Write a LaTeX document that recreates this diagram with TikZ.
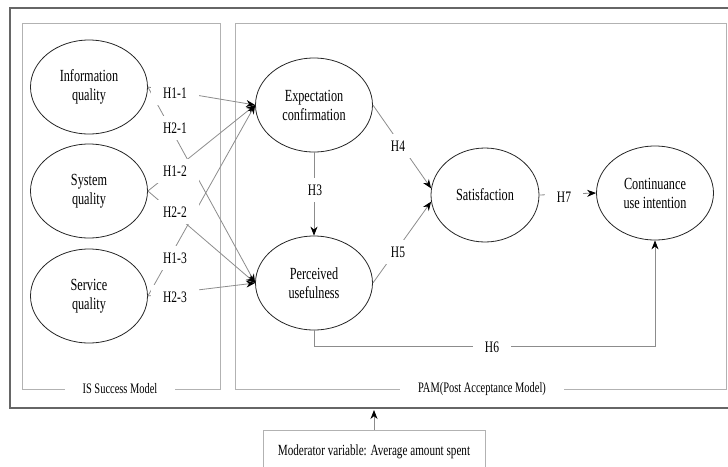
\documentclass[tikz,border=0pt]{standalone}
\usepackage{fontspec}
\setmainfont[FakeStretch=0.72]{Liberation Serif}
\usetikzlibrary{shapes.geometric,arrows.meta}
\begin{document}
\begin{tikzpicture}[x=1pt,y=-1pt,
  ell/.style={draw=black!85, line width=0.8pt, ellipse, minimum width=117pt, minimum height=94pt, inner sep=0pt, align=center, font=\fontsize{17}{19}\selectfont},
  hlab/.style={fill=white, inner xsep=12pt, inner ysep=7pt, font=\fontsize{16}{18}\selectfont},
  conn/.style={draw=black!45, line width=0.8pt, -{Stealth[length=9pt,width=7pt,color=black]}},
  boxline/.style={draw=black!30, line width=1pt},
  outerline/.style={draw=black!60, line width=1.3pt},
  boxlab/.style={fill=white, inner xsep=18pt, inner ysep=3pt, font=\fontsize{14.5}{17}\selectfont},
]
\useasboundingbox (0,0) rectangle (728,466);
% frames
\draw[outerline] (745,8) -- (10,8) -- (10,408) -- (745,408);
\draw[boxline] (22,23) rectangle (220,389);
\draw[boxline] (235,23) rectangle (726,389);
\node[boxlab] (islab) at (120,389) {IS Success Model};
\node[boxlab] (pamlab) at (482,389) {PAM(Post Acceptance Model)};
% moderator
\node[draw=black!30, line width=1pt, minimum width=222pt, minimum height=42pt, anchor=north, font=\fontsize{15.5}{18}\selectfont] (mod) at (374,430) {Moderator variable: Average amount spent};
\coordinate (outb) at (374,410);
\draw[conn] (mod.north) -- (outb);
% ellipses
\node[ell] (iq) at (89,87) {Information\\quality};
\node[ell] (sq) at (89,191) {System\\quality};
\node[ell] (svq) at (89,296) {Service\\quality};
\node[ell] (ec) at (314,105) {Expectation\\confirmation};
\node[ell] (pu) at (314,283) {Perceived\\usefulness};
\node[ell, minimum width=108pt] (sat) at (485,195) {Satisfaction};
\node[ell] (ci) at (655,193) {Continuance\\use intention};
% connectors
\draw[conn] (iq.east) -- (ec.west);
\draw[conn] (iq.east) -- (pu.west);
\draw[conn] (sq.east) -- (ec.west);
\draw[conn] (sq.east) -- (pu.west);
\draw[conn] (svq.east) -- (ec.west);
\draw[conn] (svq.east) -- (pu.west);
\draw[conn] (ec.south) -- (pu.north);
\draw[conn] (ec.east) -- (sat.173);
\draw[conn] (pu.east) -- (sat.187);
\draw[conn] (sat.east) -- (ci.west);
\draw[conn] (pu.south) -- ++(0,16) coordinate (h6c) -| (ci.south);
% labels
\node[hlab] (h11) at (175,93) {H1-1};
\node[hlab] (h21) at (175,128) {H2-1};
\node[hlab] (h12) at (175,171) {H1-2};
\node[hlab] (h22) at (175,212) {H2-2};
\node[hlab] (h13) at (175,258) {H1-3};
\node[hlab] (h23) at (175,297) {H2-3};
\node[hlab] (h3) at (315,190) {H3};
\node[hlab] (h4) at (398,146) {H4};
\node[hlab] (h5) at (398,252) {H5};
\node[hlab] (h6) at (492,347) {H6};
\node[hlab] (h7) at (564,197) {H7};
\end{tikzpicture}
\end{document}
